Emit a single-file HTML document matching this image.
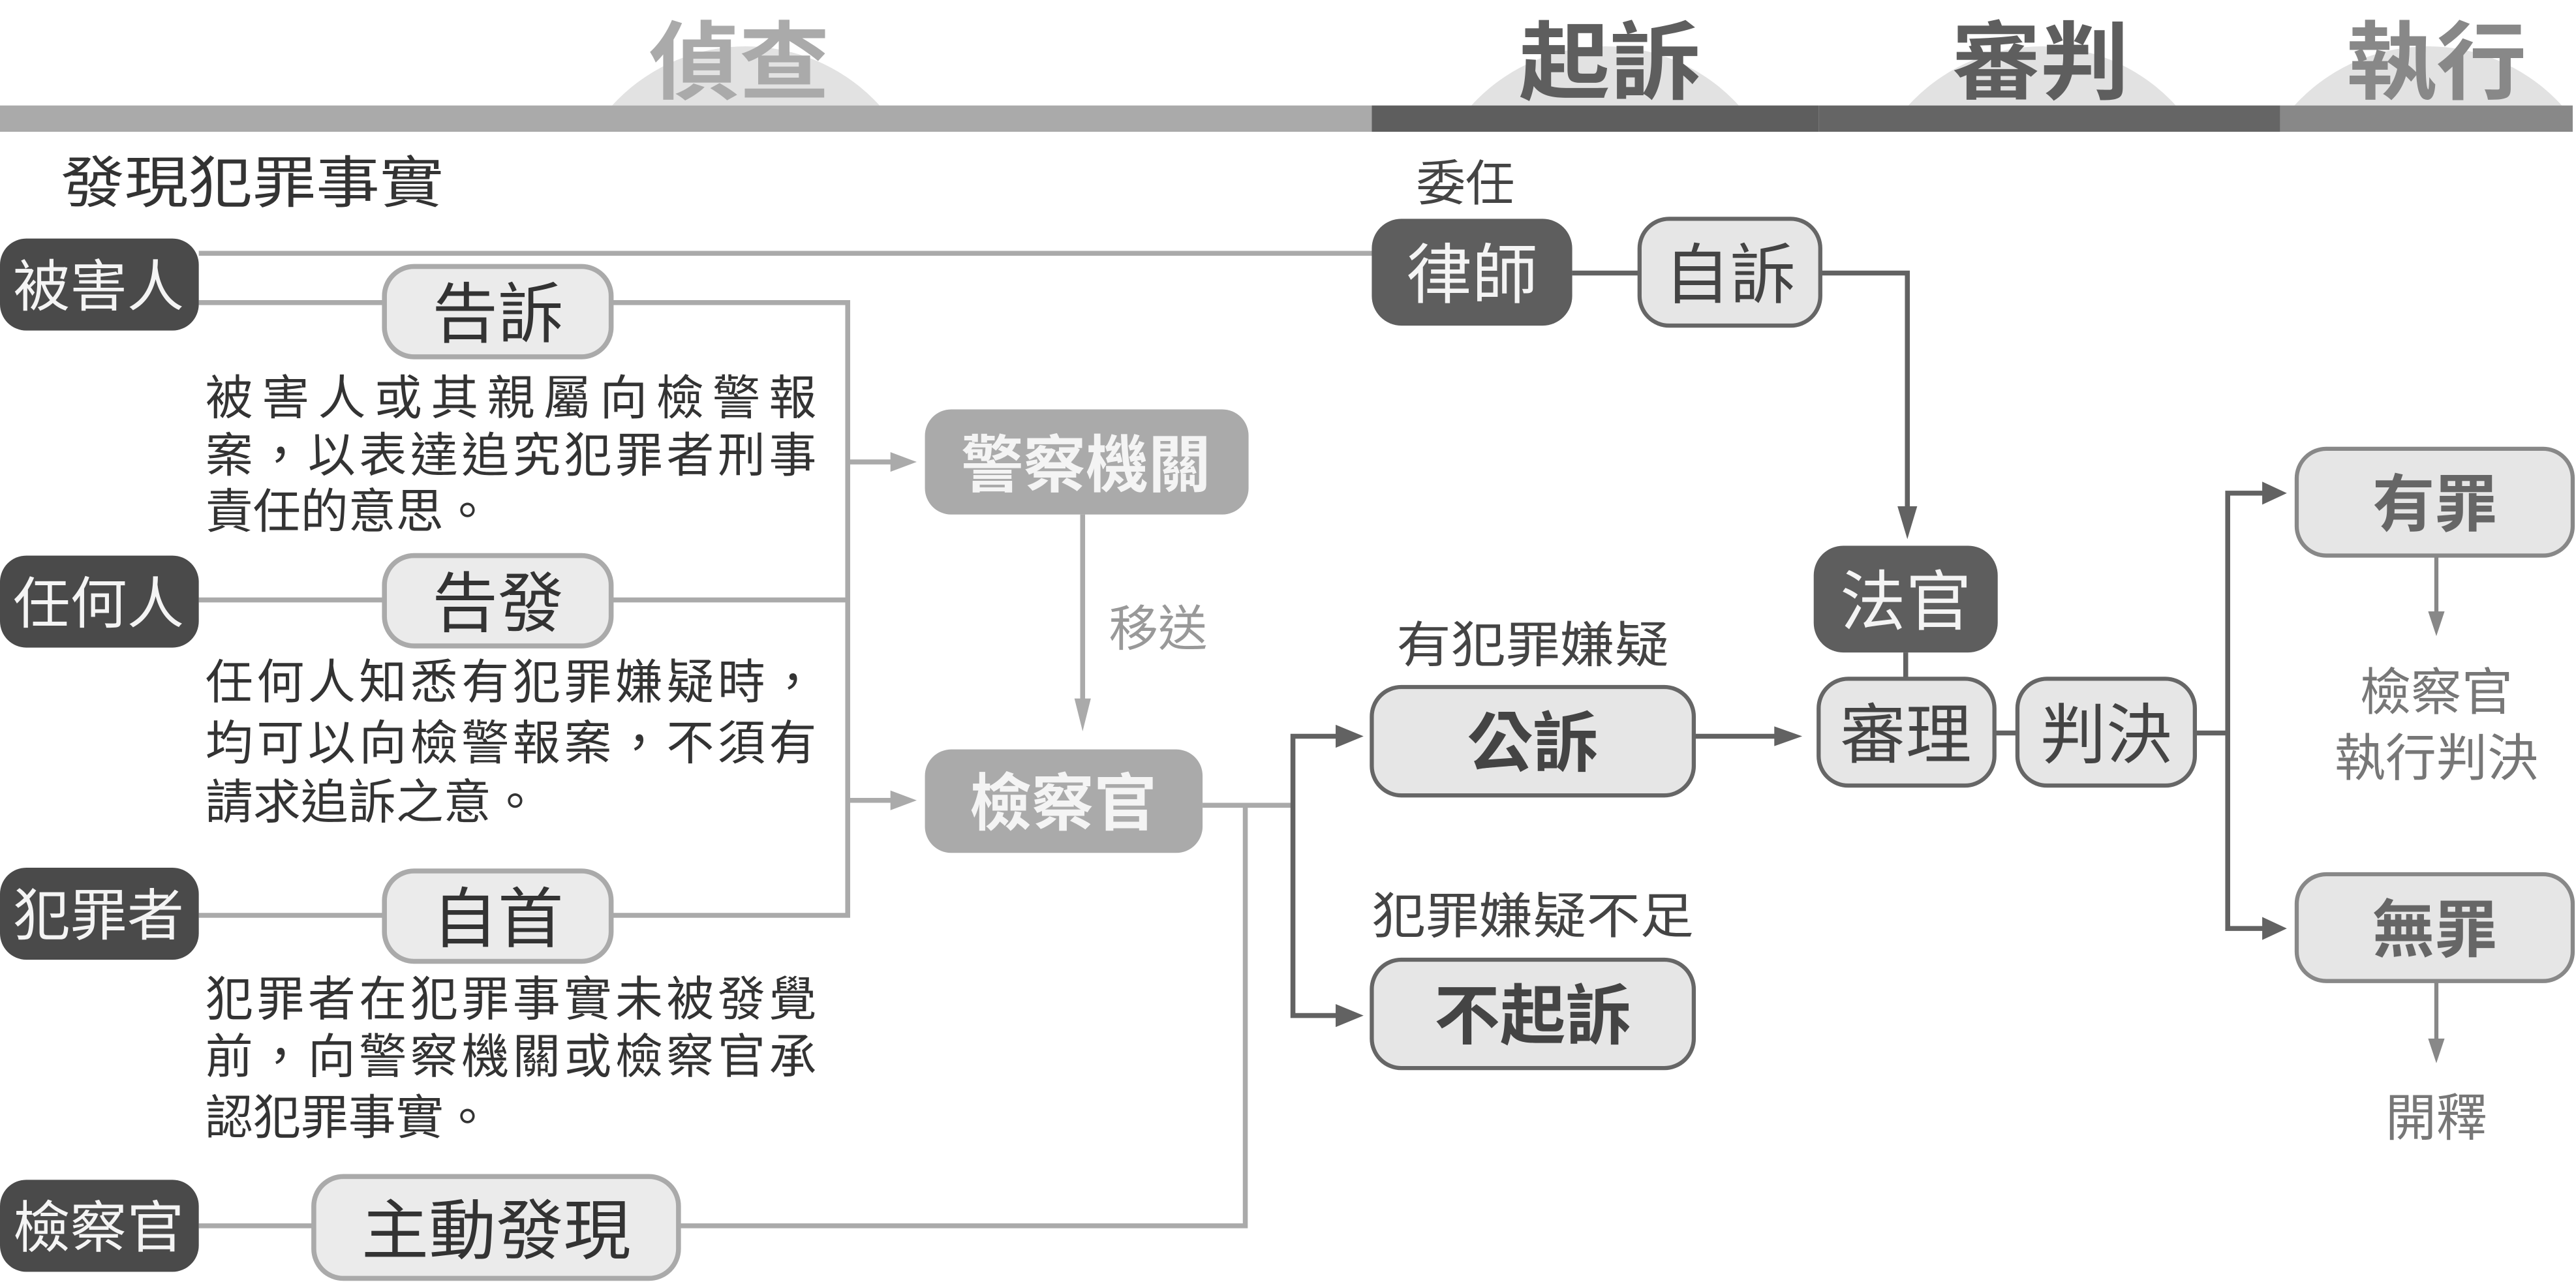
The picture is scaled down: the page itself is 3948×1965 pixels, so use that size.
<!DOCTYPE html>
<html><head><meta charset="utf-8"><style>
html,body{margin:0;padding:0;background:#fff;width:3948px;height:1965px;overflow:hidden}
svg{display:block}
text{font-family:"Liberation Sans","Noto Sans CJK TC",sans-serif}
</style></head><body>
<svg width="3948" height="1965" viewBox="0 0 1568 780" xmlns="http://www.w3.org/2000/svg">
<defs>
<clipPath id="top"><rect x="0" y="0" width="1568" height="64"/></clipPath>
</defs>
<g clip-path="url(#top)" fill="#e2e2e2">
<circle cx="454" cy="138" r="110"/>
<circle cx="977" cy="138" r="110"/>
<circle cx="1243" cy="138" r="110"/>
<circle cx="1478" cy="138" r="110"/>
</g>
<g font-weight="bold" font-size="52" text-anchor="middle">
<text x="450" y="56" fill="#aaaaaa" textLength="110" lengthAdjust="spacingAndGlyphs">偵查</text>
<text x="980" y="56" fill="#5e5e5e" textLength="111" lengthAdjust="spacingAndGlyphs">起訴</text>
<text x="1242" y="56" fill="#5e5e5e" textLength="108" lengthAdjust="spacingAndGlyphs">審判</text>
<text x="1483" y="56" fill="#888888" textLength="110" lengthAdjust="spacingAndGlyphs">執行</text>
</g>
<rect x="0" y="64" width="835" height="16" fill="#aaaaaa"/>
<rect x="835" y="64" width="272" height="16" fill="#5e5e5e"/>
<rect x="1107" y="64" width="281" height="16" fill="#656565"/>
<rect x="1388" y="64" width="178" height="16" fill="#888888"/>

<text x="37" y="123" font-size="34" fill="#333" textLength="233" lengthAdjust="spacingAndGlyphs">發現犯罪事實</text>

<g stroke="#aaaaaa" stroke-width="3" fill="none">
<line x1="121" y1="154" x2="836" y2="154"/>
<line x1="121" y1="184" x2="234" y2="184"/>
<polyline points="372,184 516,184 516,557 372,557"/>
<line x1="121" y1="365" x2="234" y2="365"/>
<line x1="372" y1="365" x2="516" y2="365"/>
<line x1="121" y1="557" x2="234" y2="557"/>
<line x1="516" y1="281" x2="545" y2="281"/>
<line x1="516" y1="487" x2="545" y2="487"/>
<line x1="121" y1="746" x2="191" y2="746"/>
<polyline points="413,746 758,746 758,490"/>
<line x1="732" y1="490" x2="788" y2="490"/>
<line x1="659" y1="313" x2="659" y2="430"/>
</g>
<g fill="#aaaaaa">
<polygon points="558,281 542,275 542,287"/>
<polygon points="558,487 542,481 542,493"/>
<polygon points="659,445 654,425 664,425"/>
</g>

<g stroke="#626262" stroke-width="3" fill="none">
<line x1="957" y1="166" x2="998" y2="166"/>
<polyline points="1108,166 1161,166 1161,315"/>
<polyline points="818,448 787,448 787,618 818,618"/>
<line x1="1031" y1="448" x2="1082" y2="448"/>
<line x1="1160" y1="397" x2="1160" y2="413"/>
<line x1="1214" y1="446" x2="1228" y2="446"/>
<polyline points="1336,446 1356,446"/>
<polyline points="1380,300 1356,300 1356,565 1380,565"/>
</g>
<g stroke="#888" stroke-width="2.5" fill="none">
<line x1="1483" y1="338" x2="1483" y2="375"/>
<line x1="1483" y1="597" x2="1483" y2="635"/>
</g>
<g fill="#626262">
<polygon points="1161,328 1155,308 1167,308"/>
<polygon points="830,448 813,441 813,455"/>
<polygon points="830,618 813,611 813,625"/>
<polygon points="1097,448 1080,442 1080,454"/>
<polygon points="1392,300 1377,293 1377,307"/>
<polygon points="1392,565 1377,558 1377,572"/>
</g>
<g fill="#888">
<polygon points="1483,387 1478,372 1488,372"/>
<polygon points="1483,647 1478,632 1488,632"/>
</g>

<g fill="#4a4a4a">
<rect x="0" y="145" width="121" height="56" rx="16"/>
<rect x="0" y="338" width="121" height="56" rx="16"/>
<rect x="0" y="528" width="121" height="56" rx="16"/>
<rect x="0" y="718" width="121" height="56" rx="16"/>
</g>
<g fill="#f4f4f4" font-size="34" text-anchor="middle">
<text x="60" y="186" textLength="104" lengthAdjust="spacingAndGlyphs">被害人</text>
<text x="60" y="379" textLength="104" lengthAdjust="spacingAndGlyphs">任何人</text>
<text x="60" y="569" textLength="104" lengthAdjust="spacingAndGlyphs">犯罪者</text>
<text x="60" y="759" textLength="104" lengthAdjust="spacingAndGlyphs">檢察官</text>
</g>

<g fill="#ebebeb" stroke="#aaaaaa" stroke-width="3">
<rect x="234" y="162" width="138" height="55" rx="18"/>
<rect x="234" y="338" width="138" height="55" rx="18"/>
<rect x="234" y="530" width="138" height="55" rx="18"/>
<rect x="191" y="716" width="222" height="62" rx="18"/>
</g>
<g fill="#333" font-size="40" text-anchor="middle">
<text x="303" y="205">告訴</text>
<text x="303" y="381">告發</text>
<text x="303" y="573">自首</text>
<text x="302" y="763" textLength="164" lengthAdjust="spacingAndGlyphs">主動發現</text>
</g>

<g fill="#333" font-size="29">
<text x="125" y="252" textLength="372" lengthAdjust="spacing">被害人或其親屬向檢警報</text>
<text x="125" y="287" textLength="372" lengthAdjust="spacing">案，以表達追究犯罪者刑事</text>
<text x="125" y="321">責任的意思。</text>
<text x="125" y="425" textLength="372" lengthAdjust="spacing">任何人知悉有犯罪嫌疑時，</text>
<text x="125" y="462" textLength="372" lengthAdjust="spacing">均可以向檢警報案，不須有</text>
<text x="125" y="498">請求追訴之意。</text>
<text x="125" y="618" textLength="372" lengthAdjust="spacing">犯罪者在犯罪事實未被發覺</text>
<text x="125" y="653" textLength="372" lengthAdjust="spacing">前，向警察機關或檢察官承</text>
<text x="125" y="690">認犯罪事實。</text>
</g>

<rect x="563" y="249" width="197" height="64" rx="16" fill="#aaaaaa"/>
<rect x="563" y="456" width="169" height="63" rx="16" fill="#aaaaaa"/>
<g fill="#f4f4f4" font-size="38" font-weight="bold" text-anchor="middle">
<text x="661" y="296">警察機關</text>
<text x="647" y="502">檢察官</text>
</g>
<text x="675" y="393" font-size="30" fill="#999">移送</text>

<text x="850" y="403" font-size="30" fill="#444" textLength="166" lengthAdjust="spacingAndGlyphs">有犯罪嫌疑</text>
<text x="835" y="568" font-size="30" fill="#444" textLength="196" lengthAdjust="spacingAndGlyphs">犯罪嫌疑不足</text>
<g fill="#e6e6e6" stroke="#666" stroke-width="2.5">
<rect x="835" y="418" width="196" height="66" rx="18"/>
<rect x="835" y="584" width="196" height="66" rx="18"/>
<rect x="998" y="133" width="110" height="65" rx="18"/>
<rect x="1107" y="413" width="107" height="65" rx="18"/>
<rect x="1228" y="413" width="108" height="65" rx="18"/>
</g>
<g fill="#e6e6e6" stroke="#888" stroke-width="2.5">
<rect x="1398" y="273" width="168" height="65" rx="18"/>
<rect x="1398" y="532" width="168" height="65" rx="18"/>
</g>
<g fill="#444" font-size="40" font-weight="bold" text-anchor="middle">
<text x="933" y="466">公訴</text>
<text x="933" y="632">不起訴</text>
</g>
<g fill="#444" font-size="40" text-anchor="middle">
<text x="1053" y="181">自訴</text>
<text x="1160" y="461">審理</text>
<text x="1282" y="461">判決</text>
</g>
<g fill="#666" font-size="38" font-weight="bold" text-anchor="middle">
<text x="1482" y="320">有罪</text>
<text x="1482" y="579">無罪</text>
</g>

<text x="862" y="122" font-size="30" fill="#444">委任</text>
<rect x="835" y="133" width="122" height="65" rx="18" fill="#5e5e5e"/>
<text x="896" y="181" font-size="40" fill="#f4f4f4" text-anchor="middle">律師</text>
<rect x="1104" y="332" width="112" height="65" rx="18" fill="#5e5e5e"/>
<text x="1160" y="380" font-size="40" fill="#f4f4f4" text-anchor="middle">法官</text>

<g fill="#777" font-size="31" text-anchor="middle">
<text x="1483" y="432">檢察官</text>
<text x="1483" y="472">執行判決</text>
<text x="1483" y="691">開釋</text>
</g>
</svg>
</body></html>
